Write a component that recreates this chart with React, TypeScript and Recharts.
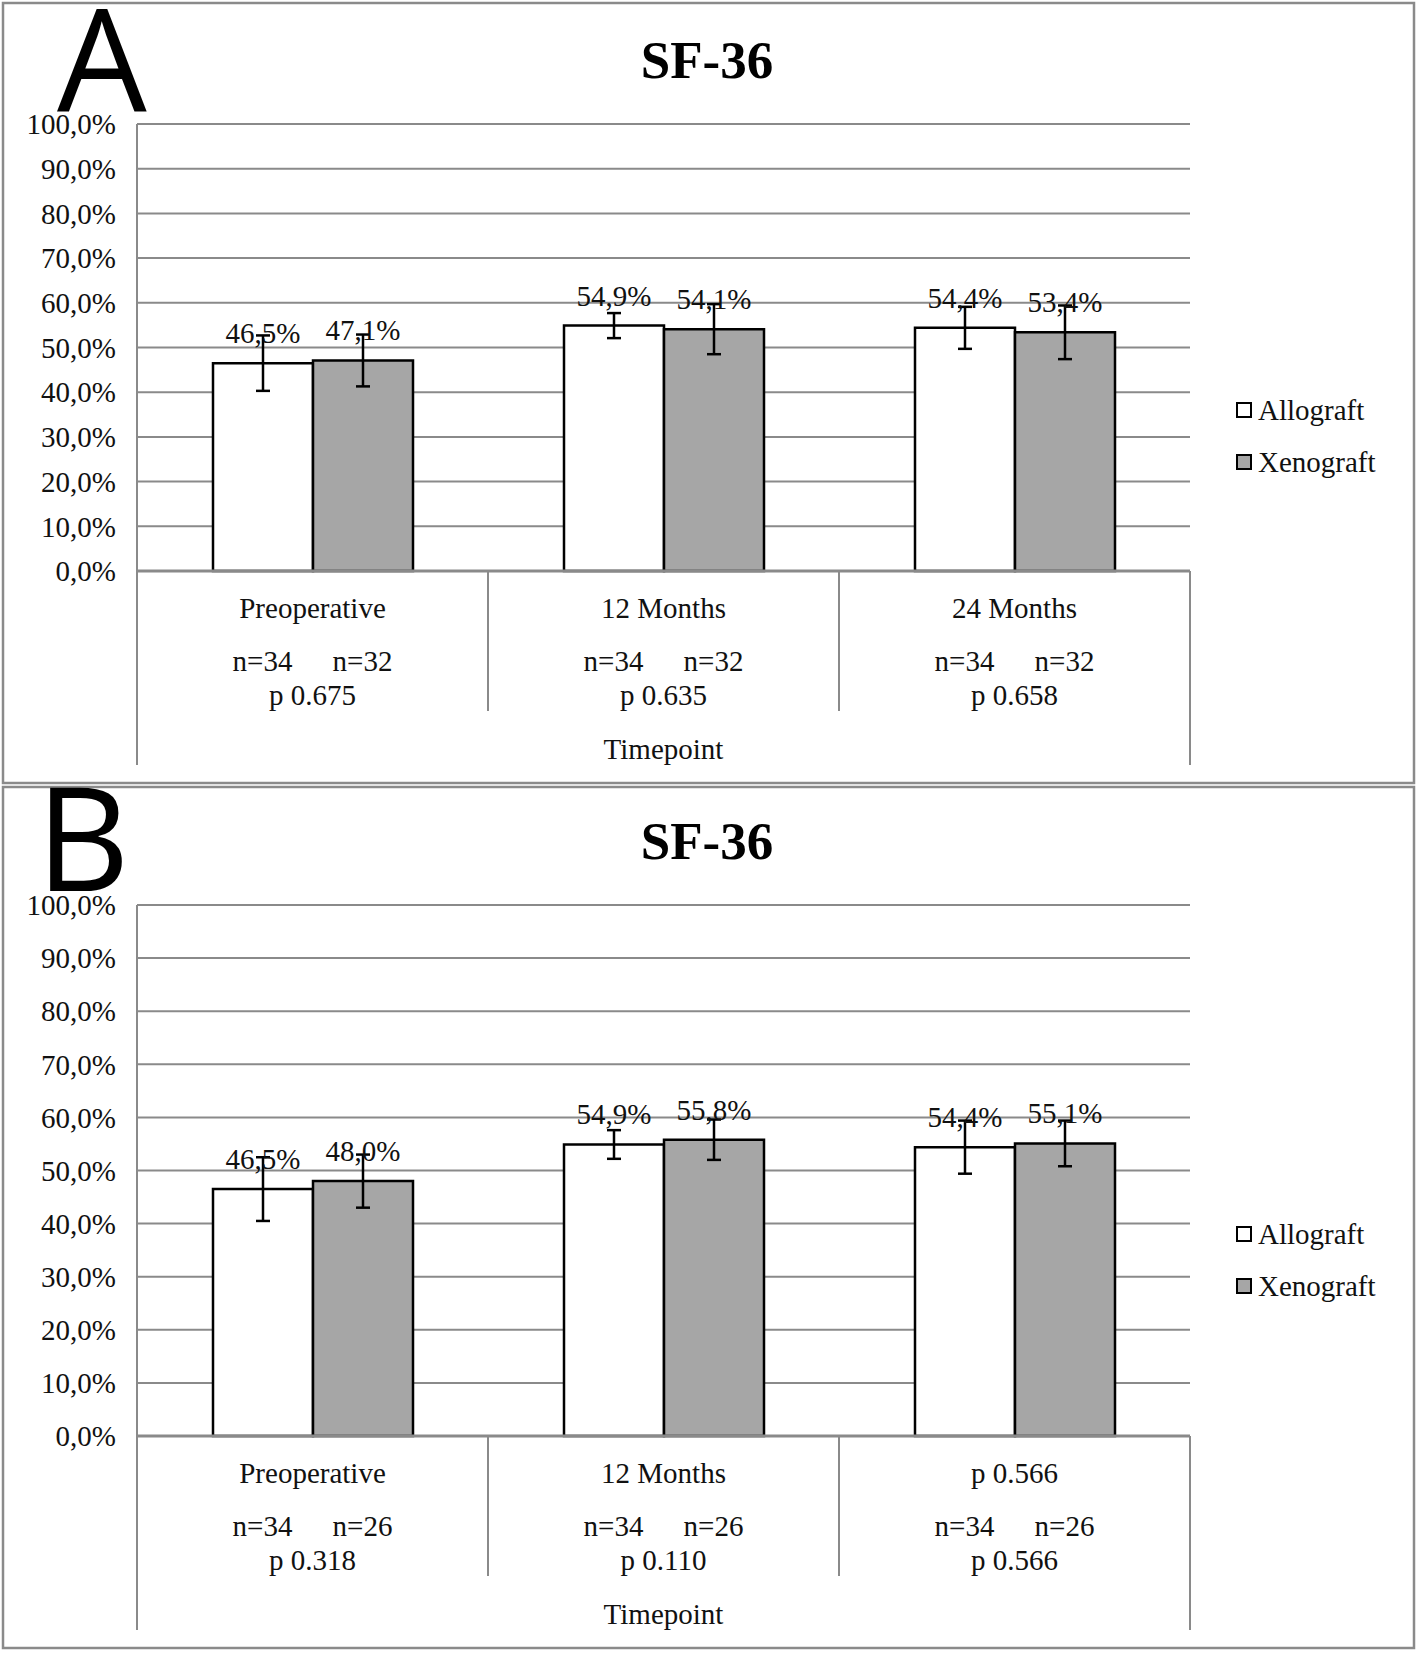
import React from 'react';
import { BarChart, Bar, XAxis, YAxis, CartesianGrid, Legend, ErrorBar, LabelList } from 'recharts';

// Panel A
const timepointsA = ['Preoperative', '12 Months', '24 Months'];
const allograftA = [46.5, 54.9, 54.4];
const xenograftA = [47.1, 54.1, 53.4];
const allograftErrA = [6.2, 2.8, 4.7];
const xenograftErrA = [5.8, 5.6, 6.0];
const nAllograftA = [34, 34, 34];
const nXenograftA = [32, 32, 32];
const pValuesA = ['0.675', '0.635', '0.658'];

// Panel B (third category label is as printed in the figure)
const timepointsB = ['Preoperative', '12 Months', 'p 0.566'];
const allograftB = [46.5, 54.9, 54.4];
const xenograftB = [48.0, 55.8, 55.1];
const allograftErrB = [6.0, 2.7, 5.0];
const xenograftErrB = [5.0, 3.8, 4.3];
const nAllograftB = [34, 34, 34];
const nXenograftB = [26, 26, 26];
const pValuesB = ['0.318', '0.110', '0.566'];

const yTicks = [0, 10, 20, 30, 40, 50, 60, 70, 80, 90, 100];

const SERIF = '"Liberation Serif", "Times New Roman", serif';
const TEXT = '#111';
const GRID = '#8a8a8a';
const PAGE_W = 1418;
const PLOT_LEFT = 137;
const PLOT_RIGHT = 1190;
const BAR_SIZE = 100;

const pct = (v: number) => `${v.toFixed(1).replace('.', ',')}%`;

function CategoryTick(props: any) {
  const { x, y, payload, nLeft, nRight, pValues, count } = props;
  const i = payload.index;
  const catW = (PLOT_RIGHT - PLOT_LEFT) / count;
  const left = x - catW / 2;
  const right = x + catW / 2;
  const txt = { fontFamily: SERIF, fontSize: 29, fill: TEXT, textAnchor: 'middle' as const, dominantBaseline: 'central' as const };
  return (
    <g>
      <line x1={left} x2={left} y1={y} y2={y + (i === 0 ? 194 : 140)} stroke={GRID} strokeWidth={2} />
      {i === count - 1 && <line x1={right} x2={right} y1={y} y2={y + 194} stroke={GRID} strokeWidth={2} />}
      <text x={x} y={y + 37} {...txt}>{payload.value}</text>
      <text x={x - BAR_SIZE / 2} y={y + 90} {...txt}>{`n=${nLeft[i]}`}</text>
      <text x={x + BAR_SIZE / 2} y={y + 90} {...txt}>{`n=${nRight[i]}`}</text>
      <text x={x} y={y + 124} {...txt}>{`p ${pValues[i]}`}</text>
    </g>
  );
}

function LegendBox() {
  const items = [
    { name: 'Allograft', fill: '#ffffff' },
    { name: 'Xenograft', fill: '#a6a6a6' },
  ];
  return (
    <div>
      {items.map((it) => (
        <div key={it.name} style={{ display: 'flex', alignItems: 'center', height: 52 }}>
          <span style={{ width: 12, height: 12, border: '2px solid #000', background: it.fill, display: 'inline-block' }} />
          <span style={{ marginLeft: 6, fontFamily: SERIF, fontSize: 29, color: TEXT }}>{it.name}</span>
        </div>
      ))}
    </div>
  );
}

interface PanelProps {
  top: number;
  height: number;
  marginTop: number;
  marginBottom: number;
  legendTop: number;
  categories: string[];
  allograft: number[];
  xenograft: number[];
  allograftErr: number[];
  xenograftErr: number[];
  nAllograft: number[];
  nXenograft: number[];
  pValues: string[];
}

function Panel(p: PanelProps) {
  const data = p.categories.map((c, i) => ({
    name: c,
    allograft: p.allograft[i],
    xenograft: p.xenograft[i],
    allErr: p.allograftErr[i],
    xenErr: p.xenograftErr[i],
  }));
  return (
    <div style={{ position: 'absolute', left: 0, top: p.top }}>
      <BarChart
        width={PAGE_W}
        height={p.height}
        data={data}
        barGap={0}
        barSize={BAR_SIZE}
        margin={{ top: p.marginTop, right: PAGE_W - PLOT_RIGHT, left: 0, bottom: p.marginBottom }}
      >
        <CartesianGrid vertical={false} stroke={GRID} strokeWidth={2} />
        <XAxis
          dataKey="name"
          height={200}
          tickSize={0}
          tickMargin={0}
          tickLine={false}
          interval={0}
          axisLine={{ stroke: GRID, strokeWidth: 3 }}
          tick={<CategoryTick nLeft={p.nAllograft} nRight={p.nXenograft} pValues={p.pValues} count={p.categories.length} />}
          label={{ value: 'Timepoint', position: 'insideBottom', offset: 12, fontFamily: SERIF, fontSize: 29, fill: TEXT }}
        />
        <YAxis
          width={PLOT_LEFT}
          domain={[0, 100]}
          ticks={yTicks}
          interval={0}
          tickFormatter={pct}
          tickSize={0}
          tickMargin={21}
          tickLine={false}
          axisLine={{ stroke: GRID, strokeWidth: 2 }}
          tick={{ fontFamily: SERIF, fontSize: 29, fill: TEXT }}
        />
        <Legend
          layout="horizontal"
          verticalAlign="middle"
          align="center"
          content={() => <LegendBox />}
          wrapperStyle={{ position: 'absolute', left: 1236, top: p.legendTop, width: 180 }}
        />
        <Bar dataKey="allograft" name="Allograft" fill="#ffffff" stroke="#000" strokeWidth={2.5} isAnimationActive={false}>
          <ErrorBar dataKey="allErr" width={7} stroke="#000" strokeWidth={2.5} direction="y" />
          <LabelList dataKey="allograft" position="top" offset={20} formatter={(v: any) => pct(Number(v))} style={{ fontFamily: SERIF, fontSize: 29, fill: TEXT }} />
        </Bar>
        <Bar dataKey="xenograft" name="Xenograft" fill="#a6a6a6" stroke="#000" strokeWidth={2.5} isAnimationActive={false}>
          <ErrorBar dataKey="xenErr" width={7} stroke="#000" strokeWidth={2.5} direction="y" />
          <LabelList dataKey="xenograft" position="top" offset={20} formatter={(v: any) => pct(Number(v))} style={{ fontFamily: SERIF, fontSize: 29, fill: TEXT }} />
        </Bar>
      </BarChart>
    </div>
  );
}

export default function App() {
  return (
    <div style={{ position: 'absolute', left: 0, top: 0, width: 1418, height: 1654, background: '#fff', overflow: 'hidden' }}>
      <Panel
        top={0}
        height={785}
        marginTop={124}
        marginBottom={14}
        legendTop={384}
        categories={timepointsA}
        allograft={allograftA}
        xenograft={xenograftA}
        allograftErr={allograftErrA}
        xenograftErr={xenograftErrA}
        nAllograft={nAllograftA}
        nXenograft={nXenograftA}
        pValues={pValuesA}
      />
      <Panel
        top={785}
        height={869}
        marginTop={120}
        marginBottom={18}
        legendTop={423}
        categories={timepointsB}
        allograft={allograftB}
        xenograft={xenograftB}
        allograftErr={allograftErrB}
        xenograftErr={xenograftErrB}
        nAllograft={nAllograftB}
        nXenograft={nXenograftB}
        pValues={pValuesB}
      />
      <svg width={1418} height={1654} style={{ position: 'absolute', left: 0, top: 0, pointerEvents: 'none' }}>
        <rect x={3} y={3} width={1411} height={780} fill="none" stroke={GRID} strokeWidth={2.5} />
        <rect x={3} y={787} width={1411} height={861} fill="none" stroke={GRID} strokeWidth={2.5} />
        <text x={57} y={111} fontFamily='"Open Sans", sans-serif' fontSize={142} fill="#000">A</text>
        <text x={36} y={891} fontFamily='"Open Sans", sans-serif' fontSize={145} fill="#000">B</text>
        <text x={707} y={60} fontFamily={SERIF} fontWeight="bold" fontSize={53} fill="#000" textAnchor="middle" dominantBaseline="central">SF-36</text>
        <text x={707} y={841} fontFamily={SERIF} fontWeight="bold" fontSize={53} fill="#000" textAnchor="middle" dominantBaseline="central">SF-36</text>
      </svg>
    </div>
  );
}
